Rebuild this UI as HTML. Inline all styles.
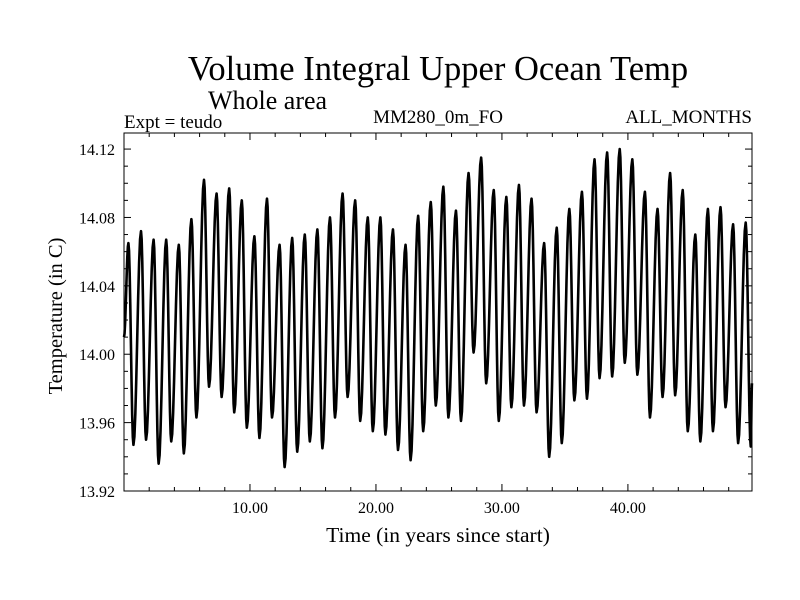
<!DOCTYPE html>
<html><head><meta charset="utf-8"><style>
body{margin:0;background:#fff}
svg{display:block;font-family:"Liberation Serif",serif}
</style></head><body>
<svg id="chart" width="800" height="600" xmlns="http://www.w3.org/2000/svg">
<text x="438" y="80" font-size="34.5" text-anchor="middle">Volume Integral Upper Ocean Temp</text>
<text x="208" y="109" font-size="26">Whole area</text>
<text x="124" y="128" font-size="19">Expt = teudo</text>
<text x="438" y="123" font-size="19" text-anchor="middle">MM280_0m_FO</text>
<text x="752" y="123" font-size="19" text-anchor="end">ALL_MONTHS</text>
<text x="438" y="542" font-size="21.5" text-anchor="middle">Time (in years since start)</text>
<text transform="translate(62,316) rotate(-90)" font-size="20.5" text-anchor="middle">Temperature (in C)</text>
<g id="axes"></g>
<path id="series" fill="none" stroke="#000" stroke-width="2.6" stroke-linejoin="round"/>
<rect x="124" y="133" width="628" height="358" fill="none" stroke="#000" stroke-width="1"/>
</svg>
<script>
const peaks = [14.065,14.072,14.067,14.067,14.064,14.079,14.102,14.094,14.097,14.090,14.069,14.091,14.064,14.068,14.070,14.073,14.080,
 14.094,14.090,14.080,14.080,14.073,14.064,14.081,14.089,
 14.098,14.084,14.106,14.115,14.096,14.092,14.099,14.091,14.065,14.074,14.085,14.095,14.114,14.118,14.120,14.114,14.095,14.085,14.106,14.096,14.070,14.085,14.086,14.076,14.077];
const troughs = [13.947,13.950,13.936,13.949,13.942,13.963,13.981,13.975,13.966,13.957,13.951,13.963,13.934,13.943,13.949,13.945,13.963,
 13.975,13.961,13.955,13.953,13.944,13.938,13.955,13.970,
 13.963,13.961,14.001,13.983,13.961,13.969,13.970,13.966,13.940,13.948,13.973,13.974,13.986,13.987,13.995,13.988,13.963,13.975,13.976,13.955,13.949,13.955,13.969,13.948,13.946];
const startValue = [14.010];
const endValue = [13.983];
const yTickLabels = ["13.92","13.96","14.00","14.04","14.08","14.12"];
const xTickLabels = ["10.00","20.00","30.00","40.00"];

const X0=124,X1=752,Y0=491,Y1=133, TMIN=0,TMAX=49.85, VMIN=13.92,VMAX=14.1294;
const xs=t=>X0+(t-TMIN)/(TMAX-TMIN)*(X1-X0);
const ys=v=>Y0-(v-VMIN)/(VMAX-VMIN)*(Y0-Y1);
const NS="http://www.w3.org/2000/svg";
const axes=document.getElementById('axes');
function line(x1,y1,x2,y2,name){const l=document.createElementNS(NS,'line');
l.setAttribute('x1',x1);l.setAttribute('y1',y1);l.setAttribute('x2',x2);l.setAttribute('y2',y2);
l.setAttribute('stroke','#000');l.setAttribute('stroke-width','1');


axes.appendChild(l);}
function text(x,y,s,anchor,name){const t=document.createElementNS(NS,'text');
t.setAttribute('x',x);t.setAttribute('y',y);t.setAttribute('font-size','16');t.setAttribute('text-anchor',anchor);t.textContent=s;


axes.appendChild(t);}
for(let v=13.92;v<=14.1295;v+=0.01){const y=ys(v);const major=Math.round(v*100)%4===0;const L=major?7:4;
 line(X0,y,X0+L,y,'y-tick');line(X1,y,X1-L,y,'y-tick');}
yTickLabels.forEach(s=>text(115,ys(parseFloat(s))+6,s,'end','y-tick-label'));
for(let t=2;t<TMAX;t+=2){const x=xs(t);const L=(t%10===0)?7:4;
 line(x,Y0,x,Y0-L,'x-tick');line(x,Y1,x,Y1+L,'x-tick');}
xTickLabels.forEach(s=>text(xs(parseFloat(s)),513,s,'middle','x-tick-label'));
const pts=[[0,startValue[0]]];
for(let k=0;k<peaks.length;k++){pts.push([k+0.35,peaks[k]]);pts.push([k+0.75,troughs[k]]);}
pts.push([TMAX,endValue[0]]);
let d='';
for(let i=0;i<pts.length-1;i++){const [ta,va]=pts[i],[tb,vb]=pts[i+1];
 for(let s=0;s<=8;s++){const f=s/8;const e=(1-Math.cos(Math.PI*f))/2;
  const x=xs(ta+(tb-ta)*f),y=ys(va+(vb-va)*e);
  d+=(d?'L':'M')+x.toFixed(2)+','+y.toFixed(2);}}
document.getElementById('series').setAttribute('d',d);
</script>
</body></html>
